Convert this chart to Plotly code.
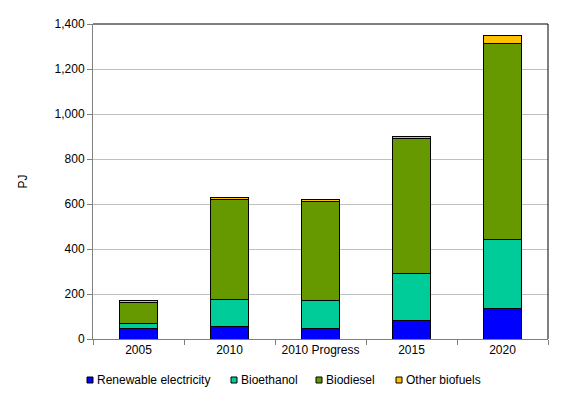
import plotly.graph_objects as go

categories = ["2005", "2010", "2010 Progress", "2015", "2020"]
renewable_electricity = [47, 56, 47, 84, 136]
bioethanol = [23, 120, 122, 208, 307]
biodiesel = [93, 445, 440, 600, 871]
other_biofuels = [9, 9, 9, 10, 33]

series = [
    ("Renewable electricity", renewable_electricity, "#0000FF"),
    ("Bioethanol", bioethanol, "#00CC99"),
    ("Biodiesel", biodiesel, "#669900"),
    ("Other biofuels", other_biofuels, "#FFC000"),
]

fig = go.Figure()
for name, vals, col in series:
    fig.add_trace(go.Bar(
        x=categories, y=vals, name=name,
        marker=dict(color=col, line=dict(color="black", width=1)),
    ))

font_family = "Liberation Sans, Arial, sans-serif"
OFF = 8  # page body margin
W, H = 581 - OFF, 396 - OFF
L, R, T, B = 93 - OFF, 33, 24 - OFF, 57
fig.update_layout(
    barmode="stack",
    bargap=0.59,
    width=W, height=H,
    margin=dict(l=L, r=R, t=T, b=B, autoexpand=False),
    paper_bgcolor="white",
    plot_bgcolor="white",
    font=dict(family=font_family, size=12, color="black"),
    showlegend=False,
    xaxis=dict(
        showline=True, linecolor="#808080", linewidth=1,
        ticks="outside", tickson="boundaries", ticklen=5, tickcolor="#808080",
        showgrid=False,
    ),
    yaxis=dict(
        range=[0, 1400], dtick=200, tickformat=",",
        showline=True, linecolor="#808080", linewidth=1,
        ticks="outside", ticklen=5, tickcolor="#808080",
        showgrid=True, gridcolor="#C0C0C0", gridwidth=1,
        zeroline=False,
        title=dict(text="PJ", standoff=24, font=dict(size=12)),
    ),
)

fig.add_shape(type="line", xref="paper", yref="paper", x0=0, x1=1, y0=1, y1=1,
              line=dict(color="black", width=1))
fig.add_shape(type="line", xref="paper", yref="paper", x0=1, x1=1, y0=0, y1=1,
              line=dict(color="black", width=1))

# manual legend (small squares + labels), positioned in window pixels
pw, ph = W - L - R, H - T - B
def px_x(x):
    return (x - OFF - L) / pw
def px_y(y):
    return (H - B - (y - OFF)) / ph

legend_x = [87, 231, 316, 396]
ly = 380
for (name, vals, col), lx in zip(series, legend_x):
    fig.add_shape(type="rect", xref="paper", yref="paper",
                  x0=px_x(lx), x1=px_x(lx + 6), y0=px_y(ly + 3), y1=px_y(ly - 3),
                  fillcolor=col, line=dict(color="black", width=1))
    fig.add_annotation(xref="paper", yref="paper", x=px_x(lx + 8), y=px_y(ly),
                       text=name, showarrow=False, xanchor="left", yanchor="middle",
                       font=dict(size=12, color="black"))

fig.write_html("out.html")
